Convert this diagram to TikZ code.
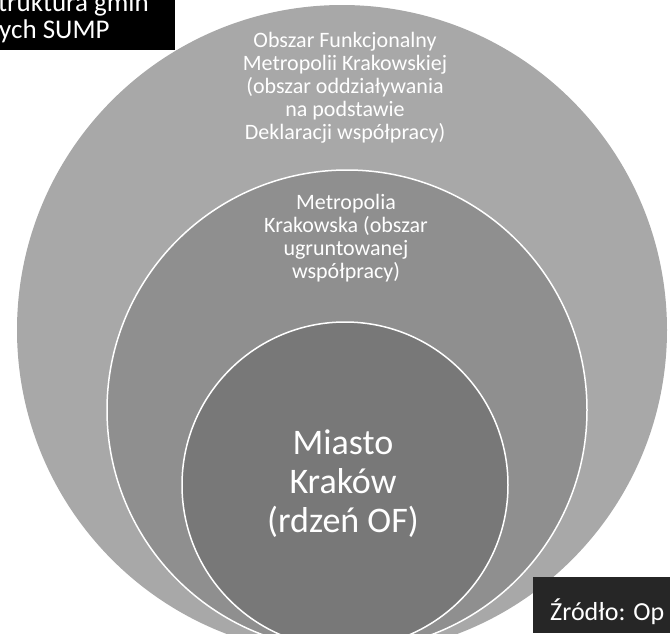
\documentclass[tikz,border=0pt]{standalone}
\usepackage{fontspec}
\setmainfont{Carlito}
\usepackage{tikz}
\usetikzlibrary{calc,positioning}
\definecolor{outergray}{gray}{0.66}
\definecolor{midgray}{gray}{0.56}
\definecolor{innergray}{gray}{0.47}
\definecolor{boxgray}{gray}{0.15}

\begin{document}
\begin{tikzpicture}[x=1pt,y=-1pt]
        \def\ro{325}
        \def\rm{240}
        \def\ri{163}
        \coordinate (c1) at (342,330);
        \coordinate (c2) at (347,410);
        \coordinate (c3) at (345,485);
        \useasboundingbox (0,0) rectangle (670,633);
        \clip (0,0) rectangle (670,633);
        %Circles
        \fill[outergray] (c1) circle(\ro);
        \filldraw[fill=midgray, draw=white, line width=1.5pt] (c2) circle(\rm);
        \filldraw[fill=innergray, draw=white, line width=1.5pt] (c3) circle(\ri);
        %Labels
        \node[text=white, align=center, font=\fontsize{22}{23}\selectfont] (fmk) at (345,88)
          {Obszar Funkcjonalny\\Metropolii Krakowskiej\\(obszar oddziaływania\\na podstawie\\Deklaracji współpracy)};
        \node[text=white, align=center, font=\fontsize{22}{23}\selectfont] (mk) at (346,238)
          {Metropolia\\Krakowska (obszar\\ugruntowanej\\współpracy)};
        \node[text=white, align=center, font=\fontsize{36}{39}\selectfont] (krk) at (343,484)
          {Miasto\\Kraków\\(rdzeń OF)};
        %Boxes
        \fill[black] (0,0) rectangle (175,50);
        \node[text=white, anchor=base west, inner sep=0pt, font=\fontsize{27}{24}\selectfont] (tl1) at (-2,11) {truktura gmin};
        \node[text=white, anchor=base west, inner sep=0pt, font=\fontsize{27}{24}\selectfont] (tl2) at (-1,38) {ych SUMP};
        \fill[boxgray] (533,577) rectangle (670,633);
        \node[text=white, anchor=base west, inner sep=0pt, font=\fontsize{26}{28}\selectfont] (src) at (550,620) {Źródło: Op};
      \end{tikzpicture}
\end{document}
